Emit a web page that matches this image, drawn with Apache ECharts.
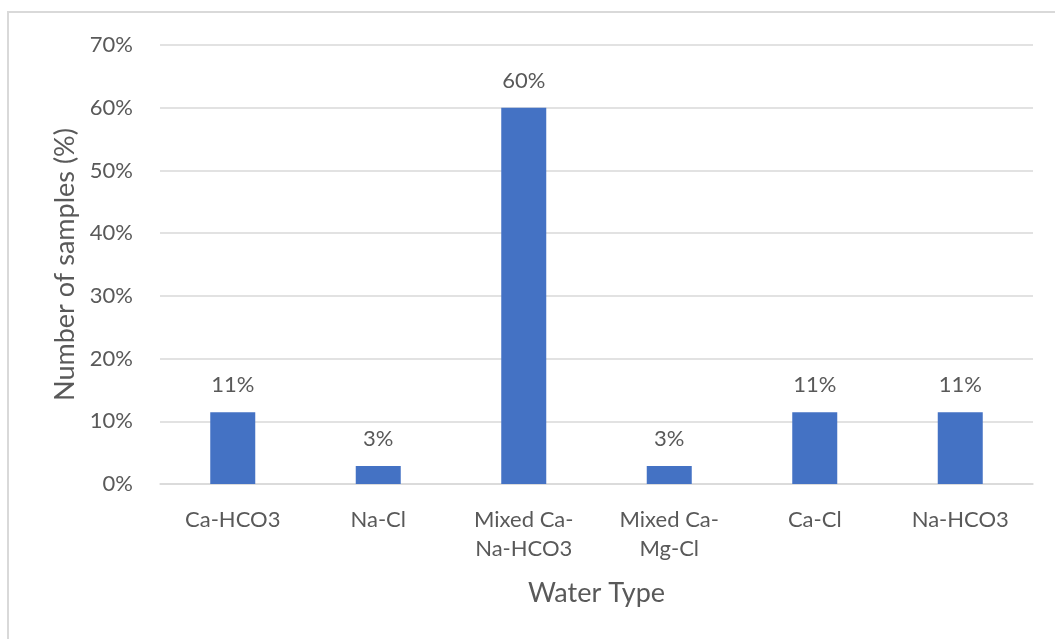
<!DOCTYPE html>
<html>
<head>
<meta charset="utf-8">
<script src="https://cdn.jsdelivr.net/npm/echarts@6/dist/echarts.min.js"></script>
<style>
  html, body { margin: 0; padding: 0; background: #ffffff; }
  #frame {
    position: absolute; left: 7px; top: 11px; width: 1048px; height: 628px;
    border-left: 2px solid #d9d9d9; border-top: 2px solid #d9d9d9; box-sizing: border-box;
  }
  #chart { position: absolute; left: 0; top: 0; width: 1055px; height: 639px; }
</style>
</head>
<body>
<div id="frame"></div>
<div id="chart"></div>
<script>
// Water types and the share of samples in each (percent)
const waterTypes = ['Ca-HCO3', 'Na-Cl', 'Mixed Ca-\nNa-HCO3', 'Mixed Ca-\nMg-Cl', 'Ca-Cl', 'Na-HCO3'];
const sharePercent = [11.43, 2.86, 60.0, 2.86, 11.43, 11.43];
const yTicks = [0, 10, 20, 30, 40, 50, 60, 70];

const textColor = '#595959';
const fontFamily = 'Lato, "Open Sans", sans-serif';

const chart = echarts.init(document.getElementById('chart'), null, { renderer: 'canvas' });
chart.setOption({
  backgroundColor: 'transparent',
  animation: false,
  grid: { left: 160, right: 22, top: 45, bottom: 155 },
  xAxis: {
    type: 'category',
    data: waterTypes,
    name: 'Water Type',
    nameLocation: 'middle',
    nameGap: 96,
    nameTextStyle: { color: textColor, fontSize: 27, fontFamily },
    axisLine: { lineStyle: { color: '#d9d9d9', width: 1.5 } },
    axisTick: { show: false },
    axisLabel: { color: textColor, fontSize: 22, fontFamily, margin: 21, lineHeight: 29, interval: 0 }
  },
  yAxis: {
    type: 'value',
    min: yTicks[0],
    max: yTicks[yTicks.length - 1],
    interval: 10,
    name: 'Number of samples (%)',
    nameLocation: 'middle',
    nameGap: 81,
    nameTextStyle: { color: textColor, fontSize: 27, fontFamily },
    axisLine: { show: false },
    axisTick: { show: false },
    axisLabel: { color: textColor, fontSize: 22, fontFamily, margin: 27, formatter: v => v + '%' },
    splitLine: { lineStyle: { color: '#d9d9d9', width: 1.5 } }
  },
  series: [{
    type: 'bar',
    data: sharePercent,
    barWidth: 45,
    itemStyle: { color: '#4472c4' },
    label: {
      show: true,
      position: 'top',
      distance: 16,
      color: textColor,
      fontSize: 22,
      fontFamily,
      formatter: p => Math.round(p.value) + '%'
    }
  }]
});
</script>
</body>
</html>
